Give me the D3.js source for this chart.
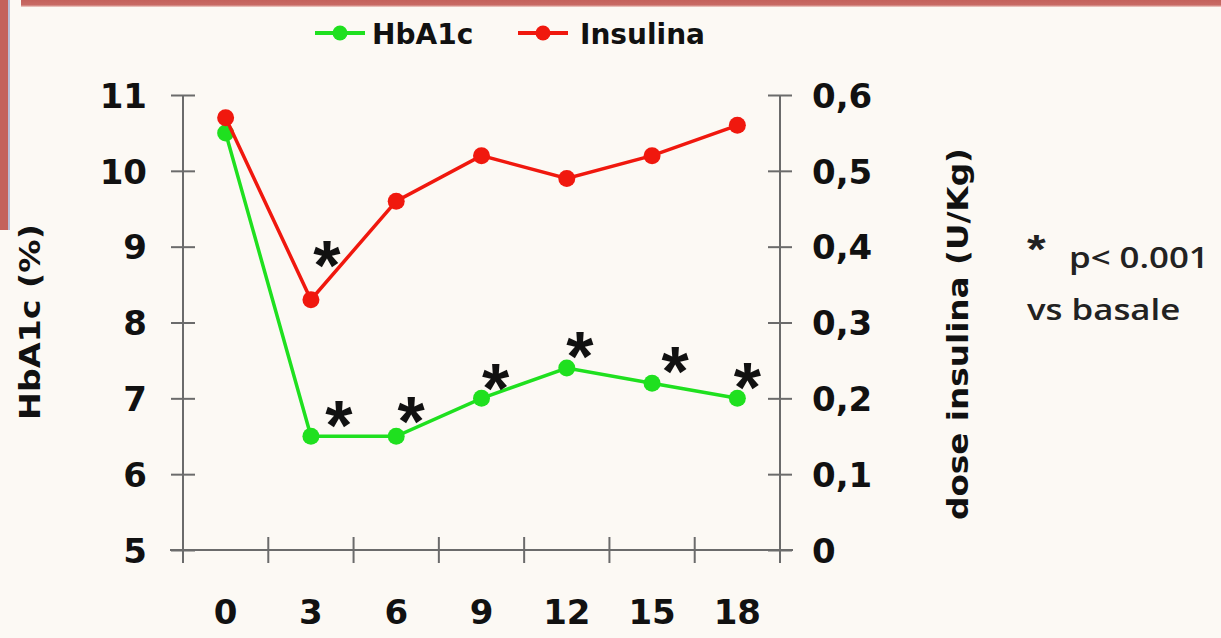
<!DOCTYPE html>
<html>
<head>
<meta charset="utf-8">
<script src="https://cdn.jsdelivr.net/npm/d3@7"></script>
<style>
  body { margin: 0; background: #fcf9f4; }
  svg { display: block; }
</style>
</head>
<body>
<div id="viewport"></div>
<script>
// data
var months = ["0", "3", "6", "9", "12", "15", "18"];
var hba1c = [10.5, 6.5, 6.5, 7.0, 7.4, 7.2, 7.0];
var insulina = [0.57, 0.33, 0.46, 0.52, 0.49, 0.52, 0.56];
var leftTicks = [5, 6, 7, 8, 9, 10, 11];
var rightTicks = [0, 0.1, 0.2, 0.3, 0.4, 0.5, 0.6];
// which points carry a significance star (p < 0.001 vs basale)
var starsHba1c = ["3", "6", "9", "12", "15", "18"];
var starsInsulina = ["3"];

var width = 1221, height = 638;
var plot = { left: 183, right: 780, top: 95, bottom: 550 };
var boldFont = "'DejaVu Sans', sans-serif";

var svg = d3.select("#viewport").append("svg")
  .attr("width", width)
  .attr("height", height);

svg.append("rect").attr("width", width).attr("height", height).attr("fill", "#fcf9f4");

// slide frame remnants (top / left red bands)
var grad = svg.append("defs").append("linearGradient")
  .attr("id", "topband").attr("x1", 0).attr("y1", 0).attr("x2", 0).attr("y2", 1);
grad.append("stop").attr("offset", "0%").attr("stop-color", "#c4625c");
grad.append("stop").attr("offset", "70%").attr("stop-color", "#c86a64");
grad.append("stop").attr("offset", "100%").attr("stop-color", "#f2d6d0");
svg.append("rect").attr("x", 21).attr("y", 0).attr("width", width - 21).attr("height", 7).attr("fill", "url(#topband)");
svg.append("rect").attr("x", 0).attr("y", 0).attr("width", 8).attr("height", 230).attr("fill", "#c4625c");
svg.append("rect").attr("x", 8).attr("y", 0).attr("width", 2).attr("height", 230).attr("fill", "#b9bed6");

var x = d3.scaleBand().domain(months).range([plot.left, plot.right]);
var yL = d3.scaleLinear().domain([5, 11]).range([plot.bottom, plot.top]);
var yR = d3.scaleLinear().domain([0, 0.6]).range([plot.bottom, plot.top]);
var cx = function (m) { return x(m) + x.bandwidth() / 2; };

// axes
var axisColor = "#6b6b6b";
var gL = svg.append("g").attr("transform", "translate(" + plot.left + ",0)")
  .call(d3.axisLeft(yL).tickValues(leftTicks).tickSizeInner(12).tickSizeOuter(0).tickPadding(24).tickFormat(d3.format("d")));
var gR = svg.append("g").attr("transform", "translate(" + plot.right + ",0)")
  .call(d3.axisRight(yR).tickValues(rightTicks).tickSizeInner(12).tickSizeOuter(0).tickPadding(20)
    .tickFormat(function (d) { return d === 0 ? "0" : d3.format(".1f")(d).replace(".", ","); }));
var gX = svg.append("g").attr("transform", "translate(0," + plot.bottom + ")")
  .call(d3.axisBottom(x).tickSize(0).tickPadding(50));

// crossing tick marks (ticks stick out on both sides of the axis line)
gL.selectAll(".tick line").attr("x1", 12).attr("x2", -12);
gR.selectAll(".tick line").attr("x1", -12).attr("x2", 12);
svg.append("g").selectAll("line")
  .data(months.concat(["end"]))
  .join("line")
  .attr("x1", function (d, i) { return plot.left + i * x.step(); })
  .attr("x2", function (d, i) { return plot.left + i * x.step(); })
  .attr("y1", plot.bottom - 13)
  .attr("y2", plot.bottom + 13)
  .attr("stroke", axisColor).attr("stroke-width", 2);

[gL, gR, gX].forEach(function (g) {
  g.selectAll(".domain").attr("stroke", axisColor).attr("stroke-width", 2);
  g.selectAll(".tick line").attr("stroke", axisColor).attr("stroke-width", 2);
  g.selectAll("text")
    .attr("fill", "#111")
    .style("font-family", boldFont)
    .style("font-weight", "bold")
    .style("font-size", "34px");
});
gX.select(".domain").attr("d", "M" + (plot.left - 13) + ",0H" + (plot.right + 13));
gL.select(".domain").attr("d", "M0," + plot.top + "V" + (plot.bottom + 13));
gR.select(".domain").attr("d", "M0," + plot.top + "V" + (plot.bottom + 13));
gL.selectAll(".tick text").attr("dy", "0.36em");
gR.selectAll(".tick text").attr("dy", "0.36em");

// axis titles
svg.append("text")
  .attr("transform", "translate(40,322) rotate(-90)")
  .attr("text-anchor", "middle")
  .attr("fill", "#111")
  .style("font-family", boldFont).style("font-weight", "bold").style("font-size", "28px")
  .attr("textLength", 196).attr("lengthAdjust", "spacingAndGlyphs")
  .text("HbA1c (%)");
svg.append("text")
  .attr("transform", "translate(968,334) rotate(-90)")
  .attr("text-anchor", "middle")
  .attr("fill", "#111")
  .style("font-family", boldFont).style("font-weight", "bold").style("font-size", "29px")
  .attr("textLength", 372).attr("lengthAdjust", "spacingAndGlyphs")
  .text("dose insulina (U/Kg)");

// series
var series = [
  { name: "HbA1c", values: hba1c, y: yL, color: "#1fe01f", stars: starsHba1c },
  { name: "Insulina", values: insulina, y: yR, color: "#f0180e", stars: starsInsulina }
];

series.forEach(function (s) {
  var pts = months.map(function (m, i) { return [cx(m), s.y(s.values[i])]; });
  svg.append("path")
    .attr("d", d3.line()(pts))
    .attr("fill", "none")
    .attr("stroke", s.color)
    .attr("stroke-width", 3.5);
  svg.append("g").selectAll("circle")
    .data(pts)
    .join("circle")
    .attr("cx", function (d) { return d[0]; })
    .attr("cy", function (d) { return d[1]; })
    .attr("r", 8.5)
    .attr("fill", s.color);
});

// significance stars, placed up-right of the marked points
var starOffsets = {
  "HbA1c": { "3": [28, -22], "6": [15, -26], "9": [14, -21], "12": [13, -23], "15": [23, -23], "18": [10, -22] },
  "Insulina": { "3": [16, -46] }
};
series.forEach(function (s) {
  svg.append("g").selectAll("text")
    .data(s.stars)
    .join("text")
    .attr("x", function (m) { return cx(m) + starOffsets[s.name][m][0]; })
    .attr("y", function (m) { return s.y(s.values[months.indexOf(m)]) + starOffsets[s.name][m][1] + 36; })
    .attr("text-anchor", "middle")
    .attr("fill", "#111")
    .style("font-family", "'Liberation Sans', Arial, sans-serif")
    .style("font-weight", "bold")
    .style("font-size", "70px")
    .text("*");
});

// legend
var legend = svg.append("g").attr("transform", "translate(315,33)");
var legendItems = [
  { name: "HbA1c", color: "#1fe01f", x0: 0, tx: 57 },
  { name: "Insulina", color: "#f0180e", x0: 203, tx: 265 }
];
legendItems.forEach(function (d) {
  var g = legend.append("g").attr("transform", "translate(" + d.x0 + ",0)");
  g.append("line").attr("x1", 0).attr("x2", 50).attr("stroke", d.color).attr("stroke-width", 4);
  g.append("circle").attr("cx", 25).attr("r", 7.5).attr("fill", d.color);
  legend.append("text")
    .attr("x", d.tx).attr("y", 11)
    .attr("fill", "#111")
    .style("font-family", boldFont).style("font-weight", "bold").style("font-size", "28px")
    .text(d.name);
});

// note on the right
var note = svg.append("g").attr("transform", "translate(1027,0) scale(1.2,1)");
note.append("text")
  .attr("x", 0).attr("y", 263)
  .attr("fill", "#222")
  .style("font-family", "'Liberation Sans', Arial, sans-serif").style("font-weight", "bold").style("font-size", "40px")
  .text("*");
note.append("text")
  .attr("x", 35).attr("y", 268)
  .attr("fill", "#222")
  .style("font-family", "'Open Sans', sans-serif").style("font-weight", 600).style("font-size", "29px")
  .text("p< 0.001");
note.append("text")
  .attr("x", 0).attr("y", 320)
  .attr("fill", "#222")
  .style("font-family", "'Open Sans', sans-serif").style("font-weight", 600).style("font-size", "29px")
  .text("vs basale");
</script>
</body>
</html>
